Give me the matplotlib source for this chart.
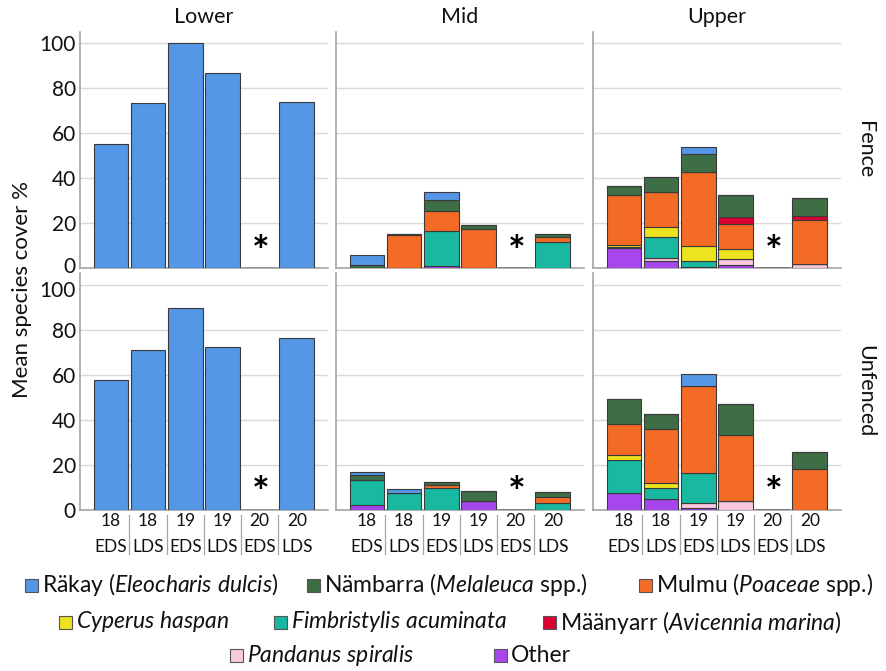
import matplotlib
matplotlib.use("Agg")
import matplotlib.pyplot as plt
from matplotlib.patches import Rectangle
from matplotlib.transforms import blended_transform_factory, ScaledTranslation
import numpy as np

plt.rcParams['font.family'] = ['Lato', 'DejaVu Sans']
plt.rcParams['mathtext.fontset'] = 'custom'
plt.rcParams['mathtext.rm'] = 'Lato'
plt.rcParams['mathtext.it'] = 'Lato:italic'
plt.rcParams['mathtext.bf'] = 'Lato:bold'

# ---------------- data ----------------
years = ['18', '18', '19', '19', '20', '20']
seasons = ['EDS', 'LDS', 'EDS', 'LDS', 'EDS', 'LDS']
zones = ['Lower', 'Mid', 'Upper']
treatments = ['Fence', 'Unfenced']
missing_index = 4  # 20 EDS not sampled (*)

species = ['other', 'pandanus', 'fimbristylis', 'cyperus', 'mulmu', 'maanyarr', 'nambarra', 'rakay']
species_colors = {
    'rakay': '#5596E6',
    'nambarra': '#3E6E46',
    'mulmu': '#F46B26',
    'cyperus': '#EDE31E',
    'fimbristylis': '#18B9A0',
    'maanyarr': '#DA0030',
    'pandanus': '#FAC8DF',
    'other': '#A846EE',
}

fence_lower = {
    'rakay': [55.3, 73.3, 100.0, 86.5, 0, 73.6],
}
fence_mid = {
    'other':        [0, 0, 1.0, 0, 0, 0],
    'fimbristylis': [0, 0, 15.7, 0, 0, 11.6],
    'mulmu':        [0, 14.7, 8.6, 17.6, 0, 2.2],
    'nambarra':     [1.2, 0.4, 5.0, 1.5, 0, 1.5],
    'rakay':        [4.7, 0, 3.4, 0, 0, 0],
}
fence_upper = {
    'other':        [8.9, 3.4, 0.4, 1.6, 0, 0],
    'pandanus':     [0.5, 1.2, 0, 2.5, 0, 1.9],
    'fimbristylis': [0, 9.2, 3.0, 0, 0, 0],
    'cyperus':      [1.0, 4.7, 6.5, 4.3, 0, 0],
    'mulmu':        [21.9, 15.3, 32.8, 11.3, 0, 19.6],
    'maanyarr':     [0, 0, 0, 3.0, 0, 1.5],
    'nambarra':     [4.0, 6.5, 8.1, 10.0, 0, 8.0],
    'rakay':        [0, 0, 2.8, 0, 0, 0],
}
unfenced_lower = {
    'rakay': [57.7, 71.0, 89.8, 72.3, 0, 76.2],
}
unfenced_mid = {
    'other':        [2.2, 0, 0, 4.0, 0, 0],
    'fimbristylis': [10.9, 7.4, 9.6, 0, 0, 3.2],
    'mulmu':        [0, 0, 1.3, 0, 0, 2.7],
    'nambarra':     [2.3, 0, 1.6, 4.4, 0, 1.9],
    'rakay':        [1.3, 1.7, 0, 0, 0, 0],
}
unfenced_upper = {
    'other':        [7.4, 4.6, 0.9, 0, 0, 0],
    'pandanus':     [0, 0, 1.9, 3.7, 0, 0],
    'fimbristylis': [14.9, 5.2, 13.4, 0, 0, 0],
    'cyperus':      [1.9, 2.1, 0, 0, 0, 0],
    'mulmu':        [14.0, 23.9, 38.7, 29.4, 0, 18.0],
    'nambarra':     [11.2, 6.6, 0, 13.7, 0, 7.5],
    'rakay':        [0, 0, 5.2, 0, 0, 0],
}
panels = [[fence_lower, fence_mid, fence_upper],
          [unfenced_lower, unfenced_mid, unfenced_upper]]

legend_labels = {
    'rakay': r'Räkay ($\it{Eleocharis\ dulcis}$)',
    'nambarra': r'Nämbarra ($\it{Melaleuca}$ spp.)',
    'mulmu': r'Mulmu ($\it{Poaceae}$ spp.)',
    'cyperus': r'$\it{Cyperus\ haspan}$',
    'fimbristylis': r'$\it{Fimbristylis\ acuminata}$',
    'maanyarr': r'Määnyarr ($\it{Avicennia\ marina}$)',
    'pandanus': r'$\it{Pandanus\ spiralis}$',
    'other': 'Other',
}

# ---------------- layout ----------------
W, H = 887, 671
fig = plt.figure(figsize=(W / 100, H / 100), dpi=100)

def fx(px):
    return px / W

def fy(py):
    return 1 - py / H

col_x = [80, 336, 593]
col_w = 248
row_top = [31.7, 273.3]
row_h = 236.5

GRID = '#D9D9D9'
AXC = '#A6A6A6'
EDGE = '#3A3A3A'
x = np.arange(len(years))
yticks = [0, 20, 40, 60, 80, 100]

for r in range(2):
    for c in range(3):
        ax = fig.add_axes([fx(col_x[c]), fy(row_top[r] + row_h), col_w / W, row_h / H])
        data = panels[r][c]
        bottom = np.zeros(len(years))
        for sp in species:
            if sp not in data:
                continue
            vals = np.array(data[sp], dtype=float)
            ax.bar(x, vals, width=0.93, bottom=bottom, color=species_colors[sp],
                   edgecolor=EDGE, linewidth=0.8, zorder=3)
            bottom += vals
        # zero-height bar for the unsampled period
        ax.bar([x[missing_index]], [0], width=0.93, color='none', edgecolor=EDGE,
               linewidth=1.0, zorder=3)
        ax.text(x[missing_index], 7.3, r'$\mathbf{*}$', ha='center', va='center',
                fontsize=30, color='black', zorder=4)
        ax.set_xlim(-0.83, 5.84)
        ax.set_ylim(0, 105)
        ax.set_yticks(yticks)
        ax.yaxis.grid(True, color=GRID, linewidth=1.0, zorder=0)
        ax.set_axisbelow(True)
        for s in ['top', 'right']:
            ax.spines[s].set_visible(False)
        ax.spines['left'].set_color(AXC)
        ax.spines['left'].set_linewidth(1.2)
        ax.spines['bottom'].set_color(AXC)
        ax.spines['bottom'].set_linewidth(1.2)
        ax.tick_params(axis='both', length=0)
        ax.set_xticks([])
        if c == 0:
            ax.set_yticklabels([str(v) for v in yticks])
            ax.tick_params(axis='y', labelsize=15, pad=3, colors='#111111')
            labels = ax.get_yticklabels()
            if r == 0:
                lab = labels[0]
                lab.set_transform(lab.get_transform() + ScaledTranslation(0, 3 / 100, fig.dpi_scale_trans))
            else:
                lab = labels[-1]
                lab.set_transform(lab.get_transform() + ScaledTranslation(0, -4 / 100, fig.dpi_scale_trans))
        else:
            ax.set_yticklabels([])
        if r == 0:
            ax.set_title(zones[c], fontsize=15.5, pad=6, color='#111111')
        else:
            tr = blended_transform_factory(ax.transData, ax.transAxes)
            for i in range(len(years)):
                ax.text(x[i], -0.048, years[i], transform=tr, ha='center', va='center',
                        fontsize=12.5, color='#111111')
                ax.text(x[i], -0.158, seasons[i], transform=tr, ha='center', va='center',
                        fontsize=12.5, color='#111111')
            for i in range(len(years) - 1):
                ax.plot([x[i] + 0.5, x[i] + 0.5], [-0.02, -0.185], transform=tr,
                        color=AXC, linewidth=0.9, clip_on=False)
        if c == 2:
            ax.text(1.097, 0.5, treatments[r], transform=ax.transAxes, rotation=270,
                    ha='center', va='center', fontsize=15.5, color='#111111')

fig.text(fx(22), fy(290), 'Mean species cover %', rotation=90, ha='center', va='center',
         fontsize=16, color='#111111')

# ---------------- legend (manual layout) ----------------
legend_rows = [
    (585, [('rakay', 25), ('nambarra', 307), ('mulmu', 639)]),
    (622, [('cyperus', 59), ('fimbristylis', 274), ('maanyarr', 543)]),
    (655, [('pandanus', 230), ('other', 494)]),
]
hs = 13
for ypx, items in legend_rows:
    for sp, xpx in items:
        fig.patches.append(Rectangle((fx(xpx), fy(ypx + hs / 2)), hs / W, hs / H,
                                     transform=fig.transFigure, facecolor=species_colors[sp],
                                     edgecolor='#555555', linewidth=0.8))
        fig.text(fx(xpx + hs + 4), fy(ypx), legend_labels[sp], ha='left', va='center',
                 fontsize=16.5, color='#111111')

fig.savefig('out.png', dpi=100)
